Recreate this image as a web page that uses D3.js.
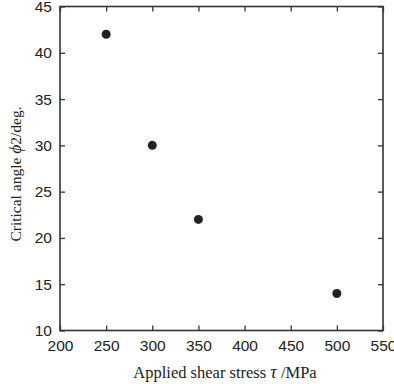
<!DOCTYPE html>
<html><head><meta charset="utf-8">
<script src="https://cdn.jsdelivr.net/npm/d3@7"></script>
<style>body{margin:0;background:#fff}</style>
</head><body>
<svg id="c" width="394" height="384"></svg>
<script>
const stress = [250, 300, 350, 500];
const angle = [42, 30, 22, 14];
const xTicks = [200, 250, 300, 350, 400, 450, 500, 550];
const yTicks = [10, 15, 20, 25, 30, 35, 40, 45];

const svg = d3.select("#c");
const L = 60, R = 383, T = 6.5, B = 330.5;
const x = d3.scaleLinear().domain([200, 550]).range([L, R]);
const y = d3.scaleLinear().domain([10, 45]).range([B, T]);
const axisColor = "#333";
const tickFont = "'Liberation Sans', Arial, sans-serif";

function style(g, showLabels) {
  g.select(".domain").remove();
  g.selectAll(".tick line").attr("stroke", axisColor).attr("stroke-width", 1.3);
  g.selectAll(".tick text").attr("fill", "#222").style("font-family", tickFont).style("font-size", "15.5px");
  if (!showLabels) g.selectAll(".tick text").remove();
}
// bottom
svg.append("g").attr("transform", `translate(0,${B})`)
  .call(d3.axisBottom(x).tickValues(xTicks).tickSize(-5).tickPadding(9))
  .call(g => style(g, true));
// top
svg.append("g").attr("transform", `translate(0,${T})`)
  .call(d3.axisTop(x).tickValues(xTicks).tickSize(-5))
  .call(g => style(g, false));
// left
svg.append("g").attr("transform", `translate(${L},0)`)
  .call(d3.axisLeft(y).tickValues(yTicks).tickSize(-5).tickPadding(8))
  .call(g => style(g, true));
// right
svg.append("g").attr("transform", `translate(${R},0)`)
  .call(d3.axisRight(y).tickValues(yTicks).tickSize(-5))
  .call(g => style(g, false));

svg.append("rect").attr("x", L).attr("y", T).attr("width", R - L).attr("height", B - T)
  .attr("fill", "none").attr("stroke", axisColor).attr("stroke-width", 1.6);

svg.append("g").selectAll("circle").data(stress).join("circle")
  .attr("cx", d => x(d)).attr("cy", (d, i) => y(angle[i])).attr("r", 4.5).attr("fill", "#222");

const serif = "'Liberation Serif', 'Times New Roman', serif";
const xl = svg.append("text").attr("x", 225).attr("y", 378).attr("text-anchor", "middle")
  .style("font-family", serif).style("font-size", "16.5px").attr("fill", "#222");
xl.append("tspan").text("Applied shear stress  ");
xl.append("tspan").style("font-style", "italic").style("font-size", "18px").text("τ");
xl.append("tspan").text(" /MPa");

const yl = svg.append("text").attr("transform", "translate(21,174) rotate(-90)").attr("text-anchor", "middle")
  .style("font-family", serif).style("font-size", "15.5px").attr("fill", "#222");
yl.append("tspan").text("Critical angle ");
yl.append("tspan").style("font-style", "italic").style("font-size", "17.5px").text("ϕ");
yl.append("tspan").text("2/deg.");
</script>
</body></html>
